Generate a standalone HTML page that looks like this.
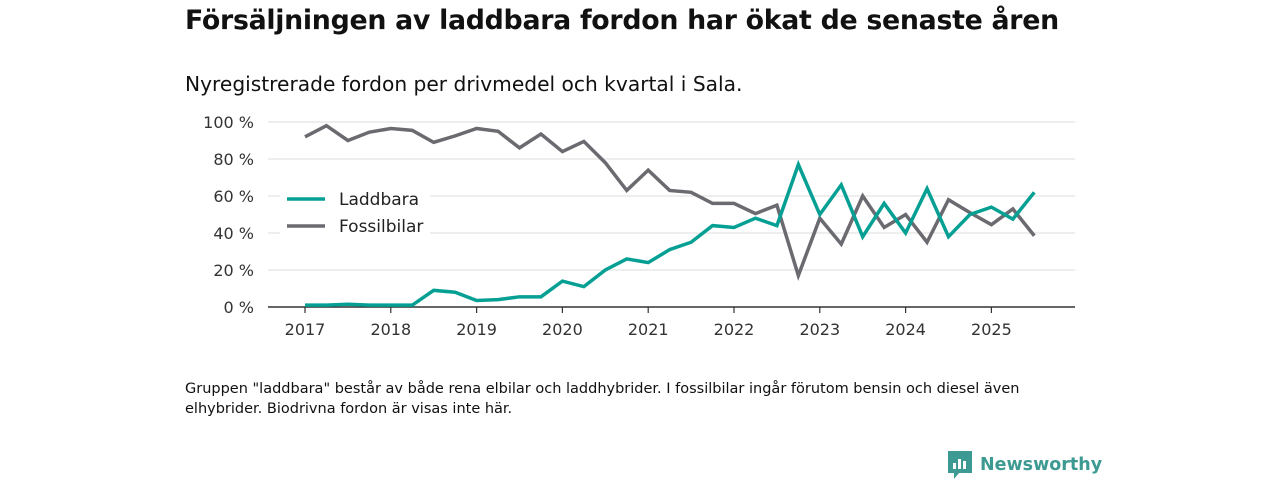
<!DOCTYPE html>
<html><head><meta charset="utf-8"><style>
body{margin:0;width:1280px;height:480px;background:#fff;font-family:"Liberation Sans","DejaVu Sans",sans-serif;color:#111;position:relative;overflow:hidden}
.t{position:absolute;left:185px;top:5px;font-size:26.8px;font-weight:bold;font-family:"DejaVu Sans",sans-serif;letter-spacing:-0.3px}
.s{position:absolute;left:185px;top:72px;font-size:20.2px;font-family:"DejaVu Sans",sans-serif}
.f{position:absolute;left:185px;top:379px;font-size:14.5px;line-height:20px;font-family:"DejaVu Sans",sans-serif;width:900px}
.logo{position:absolute;left:948px;top:451px;display:flex;align-items:center;gap:8px;color:#3d9a92;font-size:17.5px;font-weight:bold;font-family:"DejaVu Sans",sans-serif}
</style></head><body>
<div class="t">Försäljningen av laddbara fordon har ökat de senaste åren</div>
<div class="s">Nyregistrerade fordon per drivmedel och kvartal i Sala.</div>
<svg id="c" width="1280" height="480" style="position:absolute;left:0;top:0"></svg>
<div class="f">Gruppen "laddbara" består av både rena elbilar och laddhybrider. I fossilbilar ingår förutom bensin och diesel även elhybrider. Biodrivna fordon är visas inte här.</div>
<div class="logo"><svg width="24" height="28"><path d="M0 0h24v22h-13l-5 6v-6h-6z" fill="#3d9a92"/><rect x="5" y="12" width="3" height="6" fill="#fff"/><rect x="10" y="8" width="3" height="10" fill="#fff"/><rect x="15" y="10" width="3" height="8" fill="#fff"/></svg><span>Newsworthy</span></div>
<script>
const years=[2017,2018,2019,2020,2021,2022,2023,2024,2025];
const yTicks=[0,20,40,60,80,100];
const laddbara=[1,1,1.5,1,1,1,9,8,3.5,4,5.5,5.5,14,11,20,26,24,31,35,44,43,48,44,77,50,66,38,56,40,64,38,50,54,47.5,62];
const fossil=[92,98,90,94.5,96.5,95.5,89,92.5,96.5,95,86,93.5,84,89.5,78,63,74,63,62,56,56,50.5,55,17,48,34,60,43,50,35,58,51,44.5,53,38.5];
const svg=document.getElementById('c');const NS='http://www.w3.org/2000/svg';
const x=q=>305+q*21.45;const y=v=>307-v*1.85;
function mk(t,a,p){const e=document.createElementNS(NS,t);for(const k in a)e.setAttribute(k,a[k]);(p||svg).appendChild(e);return e;}
yTicks.forEach(v=>{
 if(v>0){const g=mk('line',{x1:268,x2:1075,y1:y(v),y2:y(v),stroke:'#dcdcdc','stroke-width':1});
 
 }
 const t=mk('text',{x:254,y:y(v)+6,'text-anchor':'end','font-size':16,fill:'#333','font-family':'DejaVu Sans, sans-serif'});t.textContent=v+' %';
 
 
});
const ax=mk('line',{x1:268,x2:1075,y1:307,y2:307,stroke:'#333','stroke-width':1.5});


years.forEach((yr,i)=>{const xx=x(i*4);mk('line',{x1:xx,x2:xx,y1:307,y2:313,stroke:'#333','stroke-width':1.2});
 const t=mk('text',{x:xx,y:335,'text-anchor':'middle','font-size':16,fill:'#333','font-family':'DejaVu Sans, sans-serif'});t.textContent=yr;
 
 });
function line(d,c,n){const p=mk('polyline',{points:d.map((v,i)=>x(i)+','+y(v)).join(' '),fill:'none',stroke:c,'stroke-width':3.5,'stroke-linejoin':'miter'});
 
 }
line(fossil,'#6b6a70','series-fossilbilar');
line(laddbara,'#05a093','series-laddbara');
mk('rect',{x:280,y:185,width:150,height:55,fill:'#fff'});
[['Laddbara','#05a093',199],['Fossilbilar','#6b6a70',226]].forEach(([l,c,yy])=>{
 mk('line',{x1:287,x2:325,y1:yy,y2:yy,stroke:c,'stroke-width':3.5});
 const t=mk('text',{x:339,y:yy+6,'font-size':17,fill:'#222','font-family':'DejaVu Sans, sans-serif'});t.textContent=l;
 
 });
</script>
</body></html>
